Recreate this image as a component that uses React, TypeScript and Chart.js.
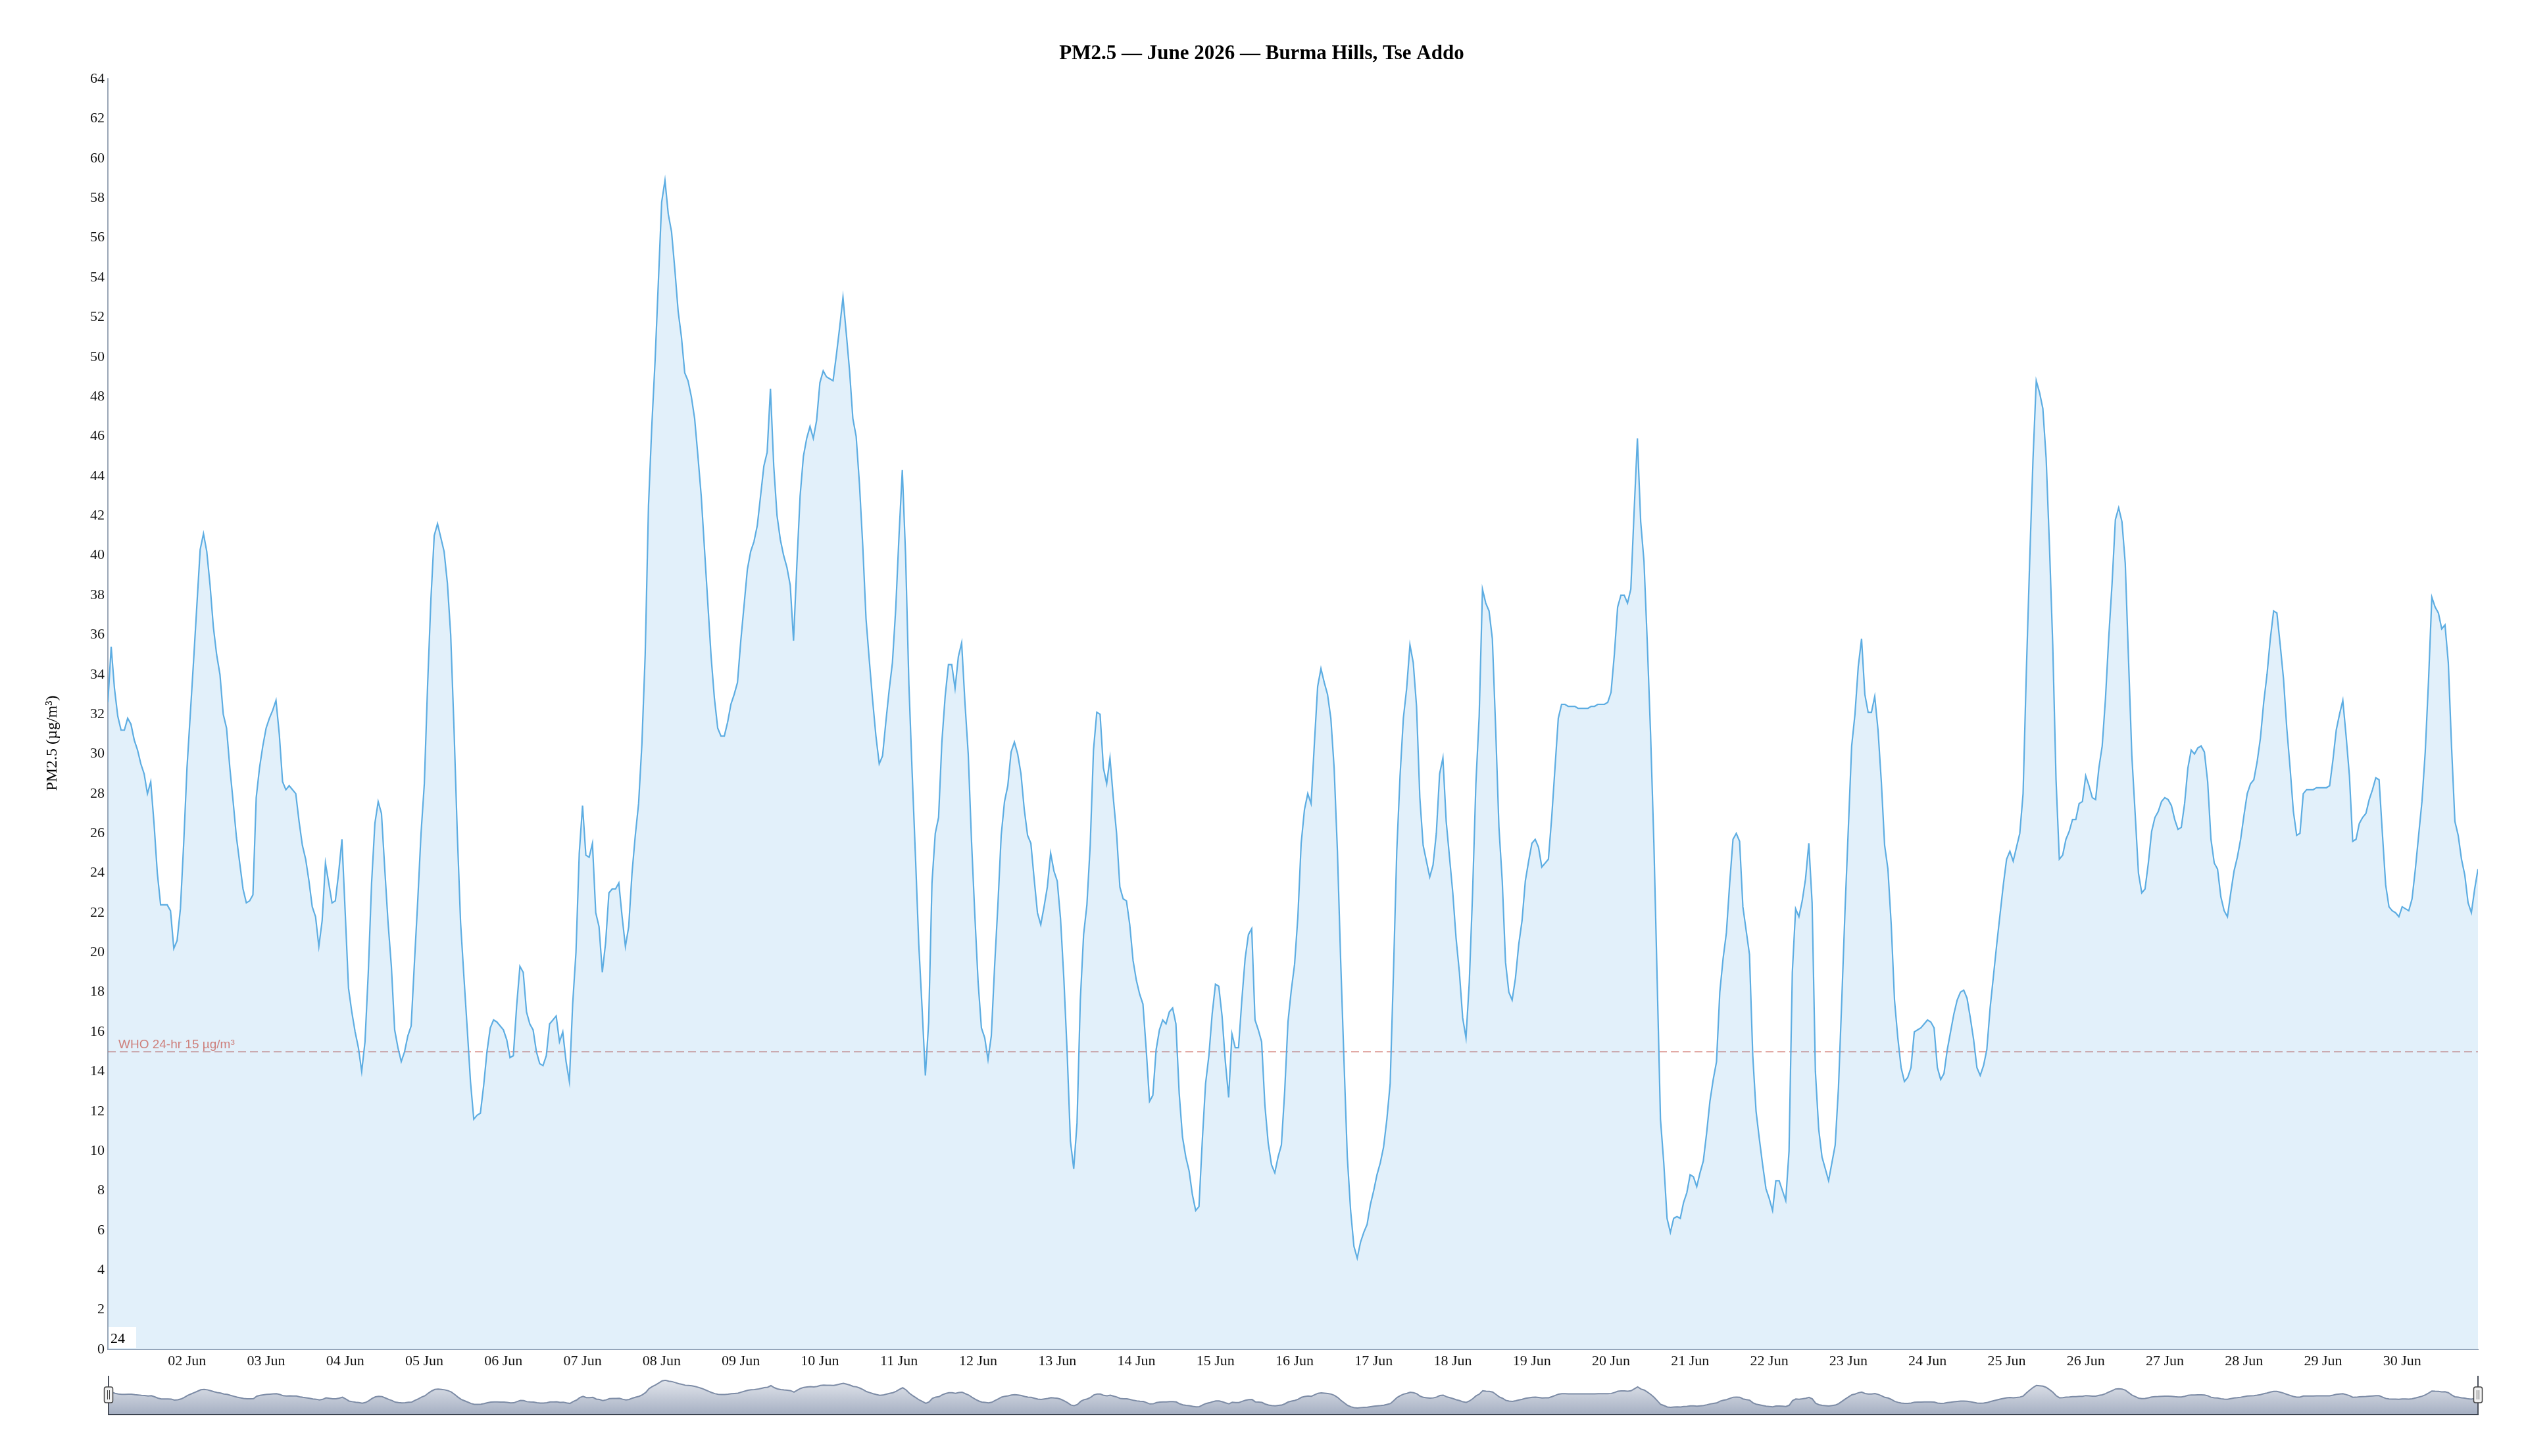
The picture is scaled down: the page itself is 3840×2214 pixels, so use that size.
import React, { useEffect, useRef } from 'react';
import { Chart, registerables } from 'chart.js';

Chart.register(...registerables);

const SERIF = '"Liberation Serif", "Times New Roman", Times, serif';
const SANS = '"Liberation Sans", Arial, sans-serif';

const TITLE = 'PM2.5 — June 2026 — Burma Hills, Tse Addo';
const Y_TITLE = 'PM2.5 (µg/m³)';
const WHO_LABEL = 'WHO 24-hr 15 µg/m³';
const WHO_LIMIT = 15;
const CORNER_LABEL = '24';
const MONTH = 'Jun';

// tick days shown on the x axis (day-of-month)
const tickDays = [2, 3, 4, 5, 6, 7, 8, 9, 10, 11, 12, 13, 14, 15, 16, 17, 18, 19, 20, 21, 22, 23, 24, 25, 26, 27, 28, 29, 30];

// hourly PM2.5 (µg/m³), hour 00 .. 23 for each day
const jun01 = [32.6, 35.4, 33.3, 31.9, 31.2, 31.2, 31.8, 31.5, 30.7, 30.2, 29.5, 29.0, 28.0, 28.6, 26.5, 24.0, 22.4, 22.4, 22.4, 22.1, 20.2, 20.6, 22.2, 25.5];
const jun02 = [29.3, 32.0, 34.7, 37.5, 40.3, 41.1, 40.2, 38.5, 36.4, 35.0, 34.0, 32.0, 31.3, 29.3, 27.6, 25.8, 24.5, 23.2, 22.5, 22.6, 22.9, 27.8, 29.3, 30.4];
const jun03 = [31.3, 31.8, 32.2, 32.7, 31.0, 28.6, 28.2, 28.4, 28.2, 28.0, 26.6, 25.4, 24.7, 23.6, 22.3, 21.8, 20.3, 21.6, 24.5, 23.5, 22.5, 22.6, 24.0, 25.7];
const jun04 = [22.0, 18.2, 17.0, 16.0, 15.2, 14.0, 15.5, 19.0, 23.5, 26.5, 27.6, 27.0, 24.2, 21.5, 19.3, 16.1, 15.2, 14.5, 15.0, 15.8, 16.3, 19.5, 22.6, 26.0];
const jun05 = [28.5, 33.5, 37.8, 41.0, 41.6, 40.9, 40.2, 38.6, 36.0, 31.3, 26.0, 21.5, 18.8, 16.2, 13.5, 11.6, 11.8, 11.9, 13.3, 15.0, 16.2, 16.6, 16.5, 16.3];
const jun06 = [16.1, 15.6, 14.7, 14.8, 17.3, 19.3, 19.0, 17.0, 16.4, 16.1, 15.0, 14.4, 14.3, 14.8, 16.4, 16.6, 16.8, 15.5, 16.0, 14.5, 13.5, 17.4, 20.0, 25.0];
const jun07 = [27.4, 24.9, 24.8, 25.5, 22.0, 21.3, 19.0, 20.5, 23.0, 23.2, 23.2, 23.5, 21.8, 20.3, 21.3, 24.0, 25.9, 27.5, 30.5, 35.0, 42.5, 46.5, 49.8, 53.8];
const jun08 = [57.8, 58.9, 57.2, 56.3, 54.4, 52.3, 51.0, 49.2, 48.8, 48.0, 46.9, 45.0, 43.0, 40.3, 37.6, 34.9, 32.8, 31.3, 30.9, 30.9, 31.6, 32.5, 33.0, 33.6];
const jun09 = [35.7, 37.5, 39.3, 40.2, 40.7, 41.5, 43.0, 44.5, 45.2, 48.4, 44.5, 42.0, 40.8, 40.0, 39.4, 38.5, 35.7, 39.5, 43.0, 45.0, 45.9, 46.5, 45.9, 46.8];
const jun10 = [48.7, 49.3, 49.0, 48.9, 48.8, 50.1, 51.5, 53.0, 51.2, 49.3, 46.9, 46.0, 43.6, 40.5, 36.8, 34.7, 32.7, 30.9, 29.5, 29.9, 31.6, 33.2, 34.6, 37.3];
const jun11 = [41.0, 44.3, 40.0, 33.5, 29.0, 24.8, 20.4, 17.2, 13.8, 16.5, 23.5, 26.0, 26.8, 30.6, 32.9, 34.5, 34.5, 33.3, 34.9, 35.6, 32.6, 30.0, 25.6, 21.9];
const jun12 = [18.5, 16.2, 15.7, 14.6, 15.8, 19.3, 22.4, 25.9, 27.6, 28.4, 30.1, 30.6, 30.0, 29.0, 27.2, 25.9, 25.5, 23.7, 22.0, 21.4, 22.3, 23.3, 25.0, 24.1];
const jun13 = [23.6, 21.7, 18.7, 15.0, 10.5, 9.1, 11.4, 17.6, 20.9, 22.4, 25.4, 30.2, 32.1, 32.0, 29.3, 28.5, 29.8, 27.8, 26.0, 23.3, 22.7, 22.6, 21.4, 19.6];
const jun14 = [18.6, 17.9, 17.4, 15.1, 12.5, 12.8, 15.1, 16.1, 16.6, 16.4, 17.0, 17.2, 16.4, 12.9, 10.7, 9.7, 9.0, 7.8, 7.0, 7.2, 10.5, 13.4, 14.8, 16.9];
const jun15 = [18.4, 18.3, 16.8, 14.5, 12.7, 15.9, 15.2, 15.2, 17.6, 19.7, 20.9, 21.2, 16.6, 16.1, 15.5, 12.3, 10.4, 9.3, 8.9, 9.7, 10.3, 13.0, 16.5, 18.1];
const jun16 = [19.4, 21.8, 25.5, 27.2, 28.0, 27.5, 30.5, 33.4, 34.3, 33.6, 33.0, 31.8, 29.3, 25.1, 19.5, 14.5, 9.7, 7.0, 5.2, 4.6, 5.4, 5.9, 6.3, 7.3];
const jun17 = [8.0, 8.8, 9.4, 10.2, 11.6, 13.4, 19.0, 25.1, 28.9, 31.8, 33.3, 35.5, 34.6, 32.4, 27.8, 25.4, 24.6, 23.8, 24.4, 26.0, 29.0, 29.8, 26.6, 24.8];
const jun18 = [23.0, 20.7, 19.0, 16.7, 15.7, 18.5, 23.0, 28.5, 31.9, 38.3, 37.6, 37.2, 35.8, 31.3, 26.3, 23.6, 19.5, 18.0, 17.6, 18.7, 20.4, 21.6, 23.6, 24.6];
const jun19 = [25.5, 25.7, 25.3, 24.3, 24.5, 24.7, 26.8, 29.3, 31.8, 32.5, 32.5, 32.4, 32.4, 32.4, 32.3, 32.3, 32.3, 32.3, 32.4, 32.4, 32.5, 32.5, 32.5, 32.6];
const jun20 = [33.1, 35.0, 37.4, 38.0, 38.0, 37.6, 38.3, 42.2, 45.9, 41.7, 39.7, 35.6, 31.0, 25.5, 18.6, 11.6, 9.4, 6.6, 5.9, 6.6, 6.7, 6.6, 7.4, 7.9];
const jun21 = [8.8, 8.7, 8.2, 8.9, 9.5, 10.9, 12.5, 13.6, 14.5, 18.0, 19.7, 21.0, 23.5, 25.7, 26.0, 25.6, 22.3, 21.1, 19.9, 14.8, 12.0, 10.6, 9.3, 8.1];
const jun22 = [7.6, 7.0, 8.5, 8.5, 8.0, 7.5, 10.0, 19.0, 22.2, 21.8, 22.6, 23.7, 25.5, 22.5, 14.0, 11.1, 9.7, 9.1, 8.5, 9.4, 10.3, 13.2, 17.6, 22.2];
const jun23 = [26.3, 30.4, 32.0, 34.4, 35.8, 33.0, 32.1, 32.1, 32.9, 31.2, 28.6, 25.4, 24.2, 21.4, 17.6, 15.7, 14.2, 13.5, 13.7, 14.2, 16.0, 16.1, 16.2, 16.4];
const jun24 = [16.6, 16.5, 16.2, 14.2, 13.6, 13.9, 15.1, 16.0, 16.9, 17.6, 18.0, 18.1, 17.7, 16.7, 15.6, 14.2, 13.8, 14.3, 15.1, 17.2, 18.8, 20.4, 21.9, 23.4];
const jun25 = [24.7, 25.1, 24.6, 25.3, 26.0, 28.0, 34.2, 39.7, 44.8, 48.8, 48.2, 47.4, 44.9, 40.5, 35.5, 28.7, 24.7, 24.9, 25.7, 26.1, 26.7, 26.7, 27.5, 27.6];
const jun26 = [28.9, 28.4, 27.8, 27.7, 29.3, 30.4, 32.8, 35.9, 38.6, 41.8, 42.4, 41.7, 39.6, 34.7, 29.9, 27.0, 24.0, 23.0, 23.2, 24.5, 26.1, 26.8, 27.1, 27.6];
const jun27 = [27.8, 27.7, 27.4, 26.7, 26.2, 26.3, 27.5, 29.3, 30.2, 30.0, 30.3, 30.4, 30.1, 28.6, 25.7, 24.5, 24.2, 22.8, 22.1, 21.8, 23.0, 24.1, 24.8, 25.7];
const jun28 = [26.9, 28.0, 28.5, 28.7, 29.6, 30.8, 32.6, 34.0, 35.8, 37.2, 37.1, 35.5, 33.8, 31.3, 29.3, 27.1, 25.9, 26.0, 28.0, 28.2, 28.2, 28.2, 28.3, 28.3];
const jun29 = [28.3, 28.3, 28.4, 29.7, 31.2, 32.0, 32.7, 30.9, 28.9, 25.6, 25.7, 26.5, 26.8, 27.0, 27.7, 28.2, 28.8, 28.7, 26.0, 23.4, 22.3, 22.1, 22.0, 21.8];
const jun30 = [22.3, 22.2, 22.1, 22.7, 24.2, 25.9, 27.6, 30.1, 33.7, 37.9, 37.4, 37.1, 36.3, 36.5, 34.6, 30.3, 26.6, 25.9, 24.7, 23.9, 22.5, 22.0, 23.2, 24.2];

const days = [jun01, jun02, jun03, jun04, jun05, jun06, jun07, jun08, jun09, jun10, jun11, jun12, jun13, jun14, jun15, jun16, jun17, jun18, jun19, jun20, jun21, jun22, jun23, jun24, jun25, jun26, jun27, jun28, jun29, jun30];

export default function App() {
  const mainRef = useRef<HTMLCanvasElement>(null);
  const navRef = useRef<HTMLCanvasElement>(null);

  useEffect(() => {
    document.documentElement.style.overflow = 'hidden';
    const hourly = days.flat();
    const points = hourly.map((v, i) => ({ x: i, y: v }));
    const lastHour = hourly.length - 1;
    const whoPoints = [
      { x: 0, y: WHO_LIMIT },
      { x: lastHour, y: WHO_LIMIT },
    ];
    const tickLabel = (value: number) => {
      const d = Math.round(value / 24) + 1;
      return String(d).padStart(2, '0') + ' ' + MONTH;
    };

    const overlay = {
      id: 'overlay',
      afterDraw(chart: any) {
        const { ctx, chartArea: a, scales } = chart;
        ctx.save();
        // WHO label
        const yWho = scales.y.getPixelForValue(WHO_LIMIT);
        ctx.font = `19px ${SANS}`;
        ctx.fillStyle = 'rgba(192, 57, 43, 0.62)';
        ctx.textAlign = 'left';
        ctx.textBaseline = 'alphabetic';
        ctx.fillText(WHO_LABEL, a.left + 16, yWho - 5);
        // corner label box
        ctx.fillStyle = '#ffffff';
        ctx.fillRect(a.left + 1, a.bottom - 34, 42, 32);
        ctx.fillStyle = '#000';
        ctx.font = `22px ${SERIF}`;
        ctx.fillText(CORNER_LABEL, a.left + 4, a.bottom - 10);
        // y axis title
        ctx.translate(80, (a.top + a.bottom) / 2 + 44);
        ctx.rotate(-Math.PI / 2);
        ctx.textAlign = 'center';
        ctx.textBaseline = 'middle';
        ctx.font = `24px ${SERIF}`;
        ctx.fillStyle = '#000';
        ctx.fillText(Y_TITLE, 0, 0);
        ctx.restore();
      },
    };

    const main = new Chart(mainRef.current as HTMLCanvasElement, {
      type: 'line',
      data: {
        datasets: [
          {
            label: 'PM2.5',
            data: points,
            borderColor: '#5dade2',
            backgroundColor: 'rgba(93, 173, 226, 0.18)',
            borderWidth: 2.2,
            pointRadius: 0,
            fill: 'origin',
            tension: 0,
            order: 0,
          },
          {
            label: 'WHO',
            data: whoPoints,
            borderColor: 'rgba(200, 95, 85, 0.62)',
            borderDash: [12, 6],
            borderWidth: 2,
            pointRadius: 0,
            fill: false,
            order: 1,
          },
        ],
      },
      options: {
        responsive: false,
        animation: false,
        devicePixelRatio: 1,
        layout: { padding: { left: 69, right: 73, top: 0, bottom: 0 } },
        plugins: {
          legend: { display: false },
          tooltip: { enabled: false },
          title: {
            display: true,
            text: TITLE,
            color: '#000',
            font: { family: SERIF, size: 31, weight: 'bold' },
            padding: { top: 63, bottom: 20 },
          },
        },
        scales: {
          x: {
            type: 'linear',
            min: 0,
            max: lastHour,
            grid: { display: false, drawTicks: false, tickLength: 0 },
            border: { display: true, color: '#9aa6b6', width: 2 },
            ticks: {
              autoSkip: false,
              maxRotation: 0,
              minRotation: 0,
              color: '#111',
              padding: 5,
              font: { family: SERIF, size: 22 },
              callback: (v: any) => tickLabel(Number(v)),
            },
            afterBuildTicks: (s: any) => {
              s.ticks = tickDays.map((d) => ({ value: (d - 1) * 24 }));
            },
            afterFit: (s: any) => {
              s.height = 162;
            },
          },
          y: {
            min: 0,
            max: 64,
            grid: { display: false, drawTicks: false, tickLength: 0 },
            border: { display: true, color: '#9aa6b6', width: 2 },
            ticks: {
              stepSize: 2,
              autoSkip: false,
              color: '#111',
              padding: 5,
              font: { family: SERIF, size: 22 },
            },
            afterFit: (s: any) => {
              s.width = 95;
            },
          },
        },
      },
      plugins: [overlay],
    } as any);

    const handles = {
      id: 'handles',
      afterDraw(chart: any) {
        const { ctx, chartArea: a } = chart;
        [a.left, a.right].forEach((x: number) => {
          ctx.save();
          ctx.strokeStyle = '#4a505c';
          ctx.lineWidth = 2;
          ctx.beginPath();
          ctx.moveTo(x, 12);
          ctx.lineTo(x, a.bottom);
          ctx.stroke();
          const w = 13;
          const h = 24;
          const top = 29;
          ctx.beginPath();
          ctx.roundRect(x - w / 2, top, w, h, 3);
          ctx.fillStyle = '#f2f2f2';
          ctx.fill();
          ctx.lineWidth = 1.5;
          ctx.strokeStyle = '#444';
          ctx.stroke();
          ctx.beginPath();
          ctx.moveTo(x - 1.5, top + 5);
          ctx.lineTo(x - 1.5, top + h - 5);
          ctx.moveTo(x + 1.5, top + 5);
          ctx.lineTo(x + 1.5, top + h - 5);
          ctx.lineWidth = 1;
          ctx.stroke();
          ctx.restore();
        });
      },
    };

    const nav = new Chart(navRef.current as HTMLCanvasElement, {
      type: 'line',
      data: {
        datasets: [
          {
            label: 'navigator',
            data: points,
            borderColor: '#7d8ca6',
            borderWidth: 2,
            pointRadius: 0,
            tension: 0,
            fill: 'start',
            backgroundColor: (c: any) => {
              const { chart } = c;
              const a = chart.chartArea;
              if (!a) return 'rgba(170, 180, 198, 0.6)';
              const g = chart.ctx.createLinearGradient(0, a.top, 0, a.bottom);
              g.addColorStop(0, '#e3e6ec');
              g.addColorStop(1, '#a6b0c3');
              return g;
            },
          },
        ],
      },
      options: {
        responsive: false,
        animation: false,
        devicePixelRatio: 1,
        layout: { padding: { left: 165, right: 73, top: 18, bottom: 10 } },
        plugins: { legend: { display: false }, tooltip: { enabled: false }, title: { display: false } },
        scales: {
          x: {
            type: 'linear',
            min: 0,
            max: lastHour,
            grid: { display: false, drawTicks: false, tickLength: 0 },
            border: { display: true, color: '#3c4350', width: 3 },
            ticks: { display: false },
            afterFit: (s: any) => {
              s.height = 0;
            },
          },
          y: { display: false, min: -7, max: 60 },
        },
      },
      plugins: [handles],
    } as any);

    return () => {
      main.destroy();
      nav.destroy();
    };
  }, []);

  return (
    <div style={{ position: 'absolute', left: 0, top: 0, width: 3840, height: 2214, background: '#fff', overflow: 'hidden' }}>
      <canvas ref={mainRef} width={3840} height={2214} style={{ position: 'absolute', left: 0, top: 0, width: 3840, height: 2214 }} />
      <canvas ref={navRef} width={3840} height={80} style={{ position: 'absolute', left: 0, top: 2080, width: 3840, height: 80 }} />
    </div>
  );
}
